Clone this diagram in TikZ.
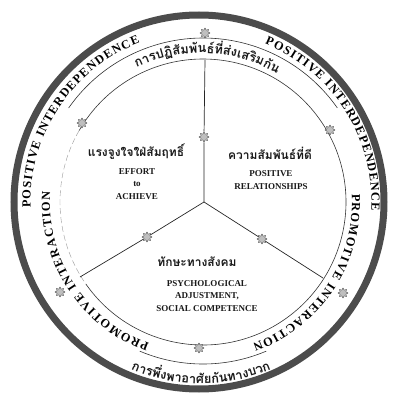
\documentclass[tikz,border=0pt]{standalone}
\usepackage{fontspec}
\setmainfont{Liberation Serif}
\newfontfamily\thaifont[Script=Thai]{Loma}
\usetikzlibrary{decorations.text,shapes.geometric}

\newlength\thw
\newcommand\thaiarcfont{\thaifont\bfseries\fontsize{12.8}{13}\selectfont}
\newcommand\thaicfont{\thaifont\bfseries\fontsize{12}{14}\selectfont}
\newcommand\engarcfont{\bfseries\fontsize{12.3}{13}\selectfont}
\newcommand\engcfont{\bfseries\fontsize{9}{12.5}\selectfont}
% measured outside the picture:
% #1 list macro, #2 centre angle, #3 baseline radius, #4 direction (+1 ccw, -1 cw), #5 whole text, #6 clusters
\newcommand\thaiprep[6]{%
  \setbox0\hbox{\thaiarcfont #5}\thw=\wd0\relax
  \pgfmathsetmacro\thtot{\thw/#3*57.29578}%
  \pgfmathsetmacro\thstart{#2-(#4)*\thtot/2}%
  \xdef\thcur{\thstart}%
  \gdef#1{}%
  \foreach \cl in {#6}{%
    \setbox0\hbox{\thaiarcfont\cl}\thw=\wd0\relax
    \pgfmathsetmacro\thd{\thw/#3*57.29578}%
    \pgfmathsetmacro\thm{\thcur+(#4)*\thd/2}%
    \pgfmathsetmacro\thr{\thm+(#4)*90}%
    \pgfmathsetmacro\thn{\thcur+(#4)*\thd}%
    \xdef\thcur{\thn}%
    \ifx#1\empty\xdef#1{\thm/\thr/\cl}\else\xdef#1{#1,\thm/\thr/\cl}\fi
  }%
}

\begin{document}
\thaiprep{\toplist}{87.5}{149}{-1}{การปฏิสัมพันธ์ที่ส่งเสริมกัน}{ก,า,ร,ป,ฏิ,สั,ม,พั,น,ธ์,ที่,ส่,ง,เ,ส,ริ,ม,กั,น}%
\thaiprep{\botlist}{-90}{181.5}{1}{การพึ่งพาอาศัยกันทางบวก}{ก,า,ร,พึ่,ง,พ,า,อ,า,ศั,ย,กั,น,ท,า,ง,บ,ว,ก}%
\begin{tikzpicture}[x=1pt,y=1pt,
  ringline/.style={draw=black!70, line width=7pt},
  rimline/.style={draw=black!80, line width=0.6pt},
  faintline/.style={draw=black!40, line width=0.4pt, dash pattern=on 6pt off 3pt},
  spokeline/.style={draw=black!85, line width=0.7pt},
  orn/.style={star, star points=8, star point ratio=1.6, minimum size=10pt, inner sep=0pt,
              draw=black!70, fill=black!25, line width=0.4pt},
  thaiarc/.style={inner sep=0pt, anchor=base, font=\thaiarcfont, text=black!90},
  thaic/.style={inner sep=0pt, font=\thaicfont, text=black!90},
  engc/.style={inner sep=0pt, align=center, font=\engcfont, text=black!90},
  eng/.style={decorate, decoration={text along path, text align=fit to path,
              text={|\engarcfont|#1}}},
]
\useasboundingbox (-201,-192) rectangle (191,202);

% rings
\draw[ringline] (-2,0) ellipse [x radius=185, y radius=187];
\draw[rimline] (2,0) ++(-145:143) arc[start angle=-145, end angle=150, radius=143];
\draw[faintline] (2,0) ++(150:143) arc[start angle=150, end angle=215, radius=143];
\draw[rimline] (2,0) ++(145:164) arc[start angle=145, end angle=35, radius=164];
\draw[rimline] (2,0) ++(-113:162) arc[start angle=-113, end angle=-67, radius=162];

% ornaments on the rings
\node[orn] (oT) at (4,169) {};
\node[orn] (oUL) at (-119,79) {};
\node[orn] (oUR) at (129,72) {};
\node[orn] (oLL) at (-141,-90) {};
\node[orn] (oLR) at (142,-91) {};
\node[orn] (oB) at (-2,-146) {};

% spokes
\coordinate (hub) at (3,0);
\coordinate (endT) at (4,142);
\coordinate (endL) at (-121,-75);
\coordinate (endR) at (122,-76);
\node[orn] (sT) at (3,65) {};
\node[orn] (sL) at (-54,-35) {};
\node[orn] (sR) at (61,-37) {};
\draw[spokeline] (hub) -- (sT) -- (endT);
\draw[spokeline] (hub) -- (sL) -- (endL);
\draw[spokeline] (hub) -- (sR) -- (endR);

% English texts along the ring
\path[eng={POSITIVE INTERDEPENDENCE}] (182:170.5) arc[start angle=182, end angle=111, radius=170.5];
\path[eng={POSITIVE INTERDEPENDENCE}] (68:170.5) arc[start angle=68, end angle=-3, radius=170.5];
\path[eng={PROMOTIVE INTERACTION}] (3:151) arc[start angle=3, end angle=-70, radius=151];
\path[eng={PROMOTIVE INTERACTION}] (-110:151) arc[start angle=-110, end angle=-184, radius=151];

% Thai texts along the ring
\foreach \a/\r/\t [count=\i] in \toplist {\node[thaiarc, rotate=\r] (tt-\i) at (\a:149) {\t};}
\foreach \a/\r/\t [count=\i] in \botlist {\node[thaiarc, rotate=\r] (tb-\i) at (\a:181.5) {\t};}

% sector labels
\node[thaic] (thL) at (-65,50) {แรงจูงใจใฝ่สัมฤทธิ์};
\node[engc] (enL) at (-64,18) {EFFORT\\to\\ACHIEVE};
\node[thaic] (thR) at (69,49) {ความสัมพันธ์ที่ดี};
\node[engc] (enR) at (70,22) {POSITIVE\\RELATIONSHIPS};
\node[thaic] (thB) at (-4,-60) {ทักษะทางสังคม};
\node[engc] (enB) at (6,-94) {PSYCHOLOGICAL\\ADJUSTMENT,\\SOCIAL COMPETENCE};
\end{tikzpicture}
\end{document}
